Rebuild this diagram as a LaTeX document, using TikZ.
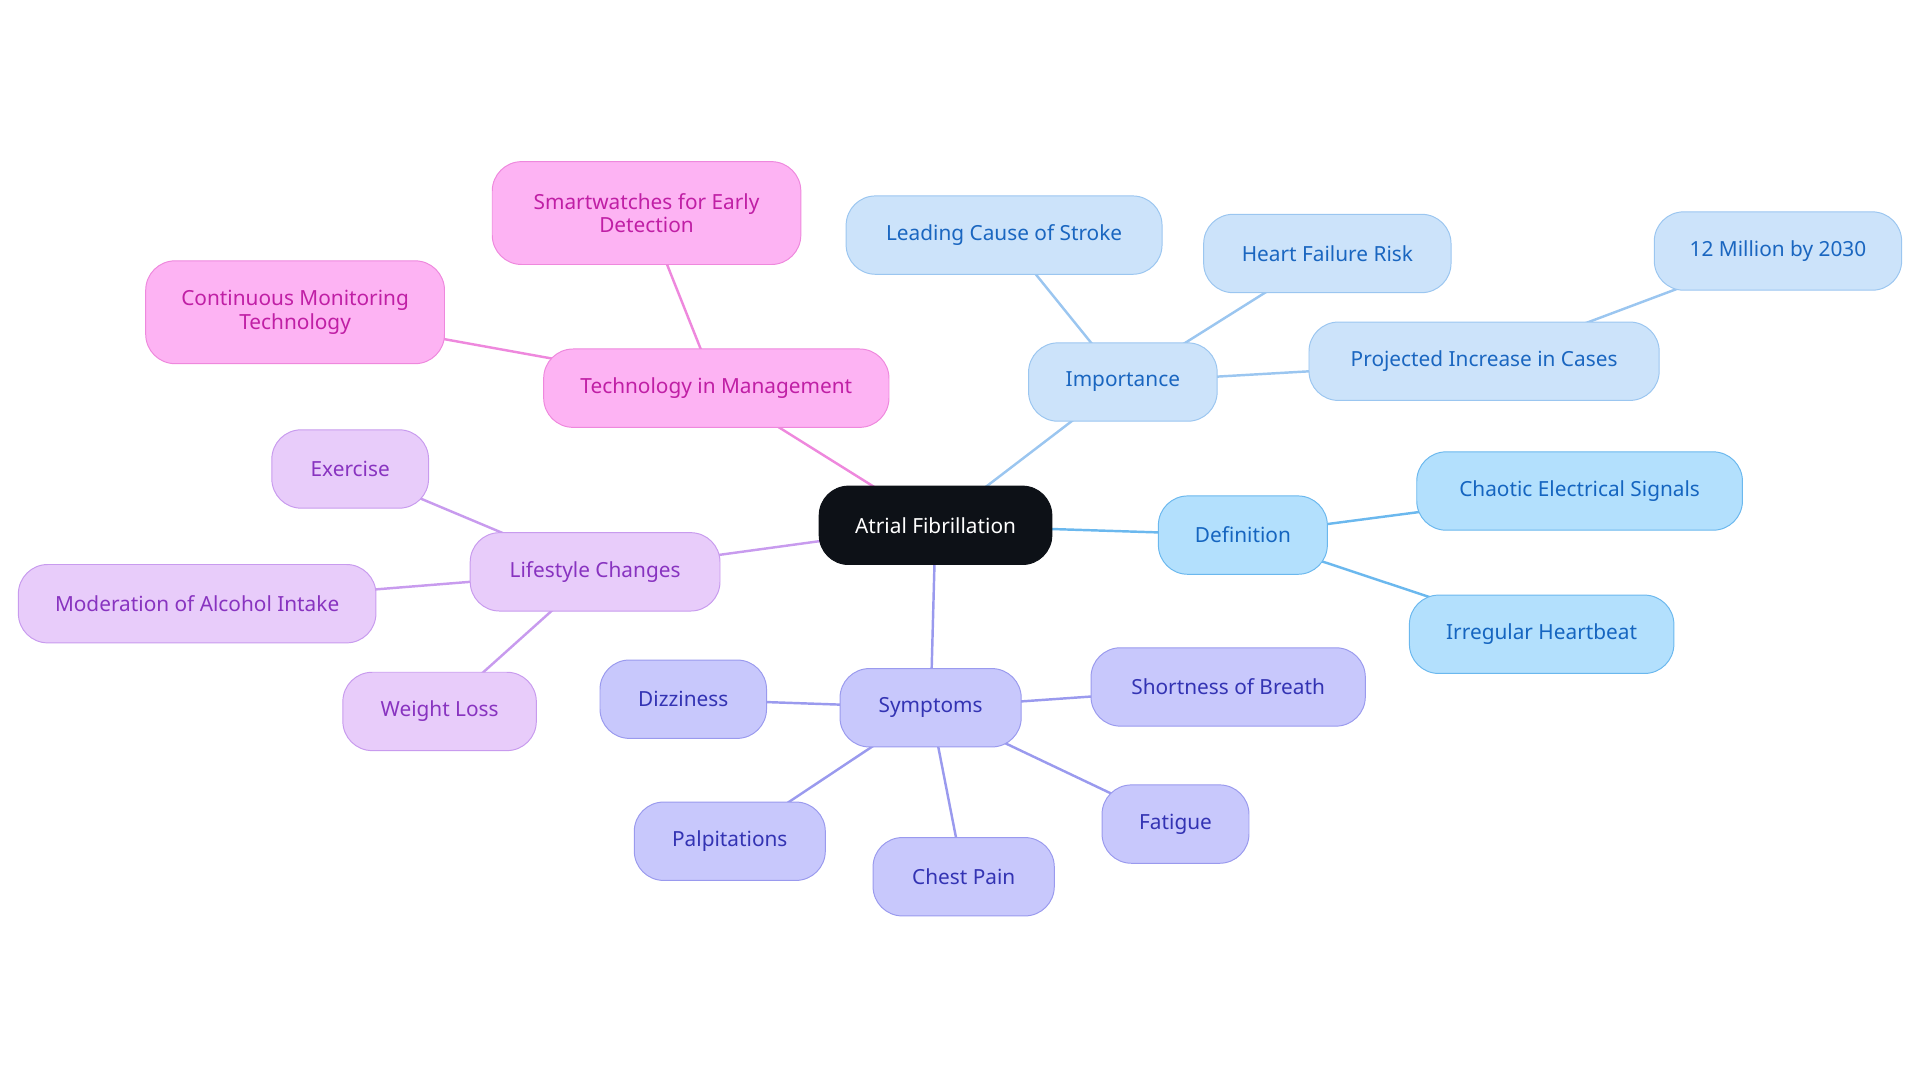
\documentclass[tikz,border=0pt]{standalone}
\usepackage{fontspec}
\setmainfont{Noto Sans}
\usetikzlibrary{backgrounds}
\definecolor{dF}{HTML}{B3E0FD}\definecolor{dB}{HTML}{6BB8EE}\definecolor{dT}{HTML}{1565C0}
\definecolor{iF}{HTML}{CCE3FA}\definecolor{iB}{HTML}{9BC6F0}\definecolor{iT}{HTML}{1A66C0}
\definecolor{sF}{HTML}{C8C8FC}\definecolor{sB}{HTML}{9A9AEE}\definecolor{sT}{HTML}{3333B3}
\definecolor{lF}{HTML}{E8CCFA}\definecolor{lB}{HTML}{C89BEE}\definecolor{lT}{HTML}{8833C0}
\definecolor{tF}{HTML}{FDB3F3}\definecolor{tB}{HTML}{EE88DD}\definecolor{tT}{HTML}{C01FA5}
\definecolor{rootF}{HTML}{0D1117}
\tikzset{
 box/.style={rounded corners=24pt, minimum height=64pt, inner sep=0pt, align=center, font=\fontsize{17pt}{19pt}\selectfont, line width=0.8pt},
 defn/.style={box, fill=dF, draw=dB, text=dT},
 imp/.style={box, fill=iF, draw=iB, text=iT},
 sym/.style={box, fill=sF, draw=sB, text=sT},
 life/.style={box, fill=lF, draw=lB, text=lT},
 tech/.style={box, fill=tF, draw=tB, text=tT},
 edge/.style={line width=2pt}
}
\begin{document}
\begin{tikzpicture}[x=1pt,y=-1pt]
\useasboundingbox (0,0) rectangle (1568,884);
\node[box, fill=rootF, draw=rootF, text=white, minimum width=190pt] (root) at (764,429) {Atrial Fibrillation};
\node[defn, minimum width=138pt] (def) at (1015,437) {Definition};
\node[defn, minimum width=266pt] (cha) at (1290,401) {Chaotic Electrical Signals};
\node[defn, minimum width=216pt] (irr) at (1259,518) {Irregular Heartbeat};
\node[imp, minimum width=154pt] (imp) at (917,312) {Importance};
\node[imp, minimum width=258pt] (lead) at (820,192) {Leading Cause of Stroke};
\node[imp, minimum width=202pt] (hf) at (1084,207) {Heart Failure Risk};
\node[imp, minimum width=286pt] (proj) at (1212,295) {Projected Increase in Cases};
\node[imp, minimum width=202pt] (mil) at (1452,205) {12 Million by 2030};
\node[sym, minimum width=148pt] (sym) at (760,578) {Symptoms};
\node[sym, minimum width=136pt] (diz) at (558,571) {Dizziness};
\node[sym, minimum width=224pt] (sob) at (1003,561) {Shortness of Breath};
\node[sym, minimum width=156pt] (pal) at (596,687) {Palpitations};
\node[sym, minimum width=148pt] (che) at (787,716) {Chest Pain};
\node[sym, minimum width=120pt] (fat) at (960,673) {Fatigue};
\node[life, minimum width=204pt] (life) at (486,467) {Lifestyle Changes};
\node[life, minimum width=128pt] (ex) at (286,383) {Exercise};
\node[life, minimum width=292pt] (mod) at (161,493) {Moderation of Alcohol Intake};
\node[life, minimum width=158pt] (wl) at (359,581) {Weight Loss};
\node[tech, minimum width=282pt] (tech) at (585,317) {Technology in Management};
\node[tech, minimum width=252pt, minimum height=84pt] (sw) at (528,174) {Smartwatches for Early\\Detection};
\node[tech, minimum width=244pt, minimum height=84pt] (cm) at (241,255) {Continuous Monitoring\\Technology};
\begin{scope}[on background layer]
\draw[edge, draw=dB] (root.center) -- (def.center) (def.center) -- (cha.center) (def.center) -- (irr.center);
\draw[edge, draw=iB] (root.center) -- (imp.center) (imp.center) -- (lead.center) (imp.center) -- (hf.center) (imp.center) -- (proj.center) (proj.center) -- (mil.center);
\draw[edge, draw=sB] (root.center) -- (sym.center) (sym.center) -- (diz.center) (sym.center) -- (sob.center) (sym.center) -- (pal.center) (sym.center) -- (che.center) (sym.center) -- (fat.center);
\draw[edge, draw=lB] (root.center) -- (life.center) (life.center) -- (ex.center) (life.center) -- (mod.center) (life.center) -- (wl.center);
\draw[edge, draw=tB] (root.center) -- (tech.center) (tech.center) -- (sw.center) (tech.center) -- (cm.center);
\end{scope}
\end{tikzpicture}
\end{document}
